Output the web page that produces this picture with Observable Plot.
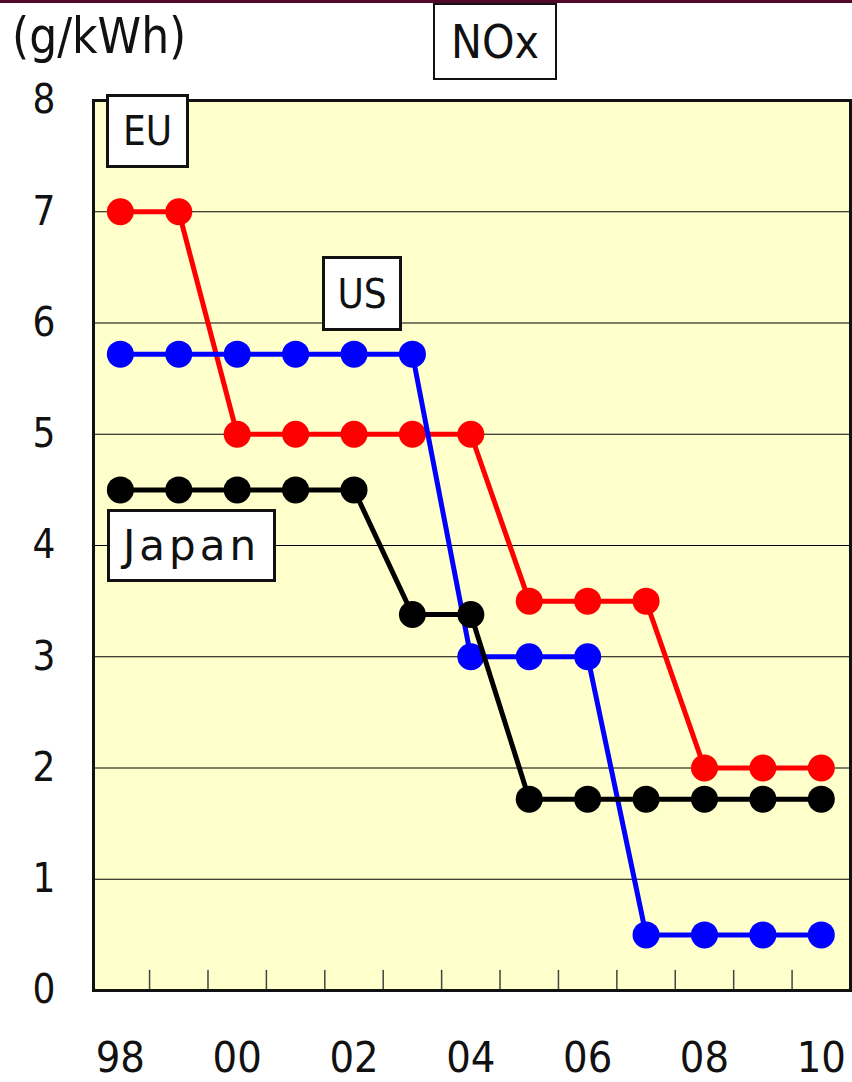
<!DOCTYPE html>
<html>
<head>
<meta charset="utf-8">
<script src="https://cdn.jsdelivr.net/npm/d3@7"></script>
<script src="https://cdn.jsdelivr.net/npm/@observablehq/plot@0.6"></script>
<style>
  body { margin: 0; background: #fff; }
  #wrap {
    position: relative; width: 852px; height: 1082px; overflow: hidden;
    font-family: "DejaVu Sans Condensed", "DejaVu Sans", sans-serif;
    font-stretch: condensed; color: #111;
  }
  #wrap svg { position: absolute; left: 0; top: 0; }
  .topline { position: absolute; left: 0; top: 0; width: 852px; height: 3px; background: #520a28; }
  .unit { position: absolute; left: 12px; top: 12px; font-size: 49px; line-height: 1; white-space: nowrap; }
  .box {
    position: absolute; box-sizing: border-box; background: #fff;
    border: 3px solid #111; display: flex; align-items: center; justify-content: center;
    line-height: 1; white-space: nowrap;
  }
  .box.title { border-width: 2px; font-size: 46px; }
  .box.series { font-size: 40px; }
  .box.wide { font-family: "DejaVu Sans", sans-serif; font-stretch: normal; font-size: 42px; letter-spacing: 4px; }
</style>
</head>
<body>
<div id="wrap">
  <div class="topline"></div>
  <div class="unit">(g/kWh)</div>
  <div class="box title" style="left:433px; top:3px; width:124px; height:77px;">NOx</div>
</div>
<script>
// Model years, 1998 through 2010
const years = [1998, 1999, 2000, 2001, 2002, 2003, 2004, 2005, 2006, 2007, 2008, 2009, 2010];

// NOx limits in g/kWh per region
const euNOx    = [7, 7, 5, 5, 5, 5, 5, 3.5, 3.5, 3.5, 2, 2, 2];
const usNOx    = [5.72, 5.72, 5.72, 5.72, 5.72, 5.72, 3, 3, 3, 0.5, 0.5, 0.5, 0.5];
const japanNOx = [4.5, 4.5, 4.5, 4.5, 4.5, 3.38, 3.38, 1.72, 1.72, 1.72, 1.72, 1.72, 1.72];

// Axis ticks and labels
const yTicks = [0, 1, 2, 3, 4, 5, 6, 7, 8];
const gridValues = [1, 2, 3, 4, 5, 6, 7];
const xLabelYears = [1998, 2000, 2002, 2004, 2006, 2008, 2010];
const xTickYears = [1998.5, 1999.5, 2000.5, 2001.5, 2002.5, 2003.5, 2004.5, 2005.5, 2006.5, 2007.5, 2008.5, 2009.5];

const series = [
  {name: "EU", values: euNOx, color: "#ff0000"},
  {name: "US", values: usNOx, color: "#0000ff"},
  {name: "Japan", values: japanNOx, color: "#000000"}
];

const rows = series.flatMap(s => years.map((yr, i) => ({region: s.name, year: yr, nox: s.values[i]})));

// a plain vertical stroke for the inner x-axis tick marks
const tickLine = {draw(context, l) { context.moveTo(0, 0); context.lineTo(0, -l); }};

const seriesMarks = series.flatMap(s => {
  const data = rows.filter(d => d.region === s.name);
  return [
    Plot.line(data, {x: "year", y: "nox", stroke: s.color, strokeWidth: 5, strokeLinejoin: "round"}),
    Plot.dot(data, {x: "year", y: "nox", r: 13.5, fill: s.color, stroke: "none"})
  ];
});

const chart = Plot.plot({
  width: 852,
  height: 1082,
  marginLeft: 93,
  marginRight: 2,
  marginTop: 100,
  marginBottom: 92,
  style: {fontFamily: "'DejaVu Sans Condensed', 'DejaVu Sans', sans-serif", fontStretch: "condensed", color: "#111", background: "transparent"},
  x: {domain: [1997.54, 2010.5]},
  y: {domain: [0, 8]},
  marks: [
    Plot.frame({fill: "#ffffcc", stroke: "none"}),
    Plot.gridY(gridValues, {stroke: "#000", strokeOpacity: 1, strokeWidth: 1}),
    Plot.vector(xTickYears, {x: d => d, frameAnchor: "bottom", length: 20, anchor: "start", shape: tickLine, stroke: "#444", strokeWidth: 1.5}),
    ...seriesMarks,
    Plot.frame({stroke: "#111", strokeWidth: 3}),
    Plot.axisY(yTicks, {tickSize: 0, tickPadding: 38, fontSize: 40, label: null, tickFormat: d => String(d)}),
    Plot.axisX(xLabelYears, {tickSize: 0, tickPadding: 51, fontSize: 43, label: null,
      tickFormat: d => String(d % 100).padStart(2, "0")})
  ]
});

const wrap = document.getElementById("wrap");
wrap.insertBefore(chart, wrap.firstChild);

// region labels
const labels = [
  {text: "EU", cls: "series", left: 106, top: 94, w: 83, h: 74},
  {text: "US", cls: "series", left: 322, top: 256, w: 80, h: 75},
  {text: "Japan", cls: "series wide", left: 107, top: 509, w: 169, h: 73}
];
for (const l of labels) {
  const div = document.createElement("div");
  div.className = "box " + l.cls;
  div.style.left = l.left + "px";
  div.style.top = l.top + "px";
  div.style.width = l.w + "px";
  div.style.height = l.h + "px";
  div.textContent = l.text;
  wrap.appendChild(div);
}
</script>
</body>
</html>
